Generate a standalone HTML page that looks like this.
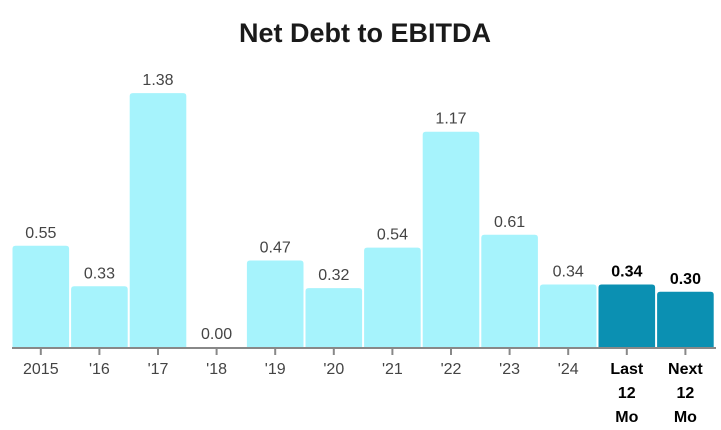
<!DOCTYPE html>
<html><head><meta charset="utf-8"><style>
body{margin:0;background:#fff;}
svg{display:block;font-family:"Liberation Sans","DejaVu Sans",sans-serif;}
</style></head><body>
<svg id="chart" width="721" height="430" viewBox="0 0 721 430">
<text x="365" y="42" text-anchor="middle" font-size="27" font-weight="bold" fill="#1a1a1a">Net Debt to EBITDA</text>
<g id="bars"></g>
<line x1="12" x2="716" y1="348" y2="348" stroke="#888" stroke-width="2"/>
<g id="labels"></g>
</svg>
<script>
const categories=["2015","'16","'17","'18","'19","'20","'21","'22","'23","'24","Last 12 Mo","Next 12 Mo"];
const values=[0.55,0.33,1.38,0.00,0.47,0.32,0.54,1.17,0.61,0.34,0.34,0.30];
const highlighted=[false,false,false,false,false,false,false,false,false,false,true,true];
const NS="http://www.w3.org/2000/svg";
const x0=12,slot=58.6,base=347,scale=184;
const xs=i=>x0+i*slot;
const ys=v=>base-v*scale;
const bars=document.getElementById('bars'),labels=document.getElementById('labels');
categories.forEach((c,i)=>{
  const v=values[i],x=xs(i)+0.5,w=slot-2,y=ys(v),h=base-y;
  if(h>0){
    const r=document.createElementNS(NS,'path');
    
    
    const rr=Math.min(3,h);
    r.setAttribute('d',`M${x},${base} V${y+rr} Q${x},${y} ${x+rr},${y} H${x+w-rr} Q${x+w},${y} ${x+w},${y+rr} V${base} Z`);
    r.setAttribute('fill',highlighted[i]?'#0b90b2':'#a6f3fc');
    bars.appendChild(r);
  }
  const t=document.createElementNS(NS,'text');
  
  
  t.setAttribute('x',x+w/2);t.setAttribute('y',y-8);
  t.setAttribute('text-anchor','middle');t.setAttribute('font-size','16');
  t.setAttribute('fill',highlighted[i]?'#000':'#444');
  if(highlighted[i])t.setAttribute('font-weight','bold');
  t.textContent=v.toFixed(2);
  labels.appendChild(t);
  const tk=document.createElementNS(NS,'line');
  
  
  tk.setAttribute('x1',x+w/2);tk.setAttribute('x2',x+w/2);tk.setAttribute('y1',348);tk.setAttribute('y2',355);
  tk.setAttribute('stroke','#888');tk.setAttribute('stroke-width','2');
  labels.appendChild(tk);
  const parts=highlighted[i]?c.split(' '):[c];
  parts.forEach((p,j)=>{
    const l=document.createElementNS(NS,'text');
    
    
    l.setAttribute('x',x+w/2);l.setAttribute('y',374+j*24);
    l.setAttribute('text-anchor','middle');l.setAttribute('font-size','16');
    l.setAttribute('fill',highlighted[i]?'#000':'#444');
    if(highlighted[i])l.setAttribute('font-weight','bold');
    l.textContent=p;
    labels.appendChild(l);
  });
});
</script>
</body></html>
